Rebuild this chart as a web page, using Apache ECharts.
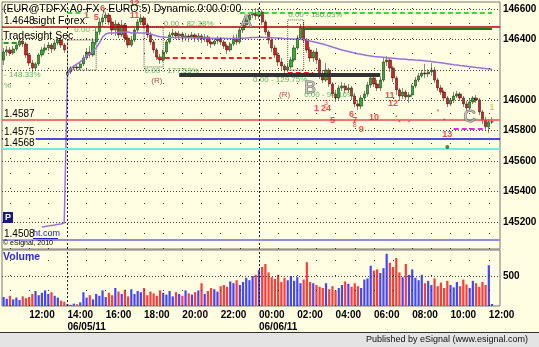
<!DOCTYPE html>
<html><head><meta charset="utf-8">
<script src="https://cdn.jsdelivr.net/npm/echarts@6/dist/echarts.min.js"></script>
<style>html,body{margin:0;padding:0;background:#fffde2;}#c{width:539px;height:347px;}</style>
</head><body><div id="c"></div><script>
// ---------- DATA (10-minute bars, prices in the chart's axis units) ----------
const openP = [146265,146317,146331,146311,146337,146363,146390,146370,146298,146245,146212,146239,146298,146331,146344,146363,146337,146377,146396,146363,
146166,146186,146212,146219,146212,146239,146278,146317,146298,146383,146449,146515,146541,146561,146515,146462,146501,146429,146495,146409,
146363,146396,146462,146515,146541,146495,146429,146383,146331,146285,146265,146317,146383,146429,146442,146423,146436,146409,146423,146416,
146429,146409,146423,146403,146416,146383,146370,146390,146403,146383,146357,146331,146370,146409,146383,146462,146495,146528,146561,146574,
146554,146580,146515,146449,146396,146344,146298,146252,146225,146199,146219,146265,146344,146409,146475,146396,146331,146278,146317,146265,
146166,146133,146199,146107,146041,146015,146081,146094,146068,146081,146028,145976,145962,146015,146041,146100,146147,146107,146081,146133,
146252,146265,146212,146147,146068,146028,146054,146022,146035,146094,146133,146160,146179,146173,146186,146199,146133,146081,146054,146015,
145976,146002,146028,146041,146015,145976,145949,145989,146015,146002,145923,145870,145825,145858];
const closeP = [146317,146331,146311,146337,146363,146390,146370,146298,146245,146212,146239,146298,146331,146344,146363,146337,146377,146396,146363,146331,
146186,146212,146219,146212,146239,146278,146317,146298,146383,146449,146515,146541,146561,146515,146462,146501,146429,146495,146409,146363,
146396,146462,146515,146541,146495,146429,146383,146331,146285,146265,146317,146383,146429,146442,146423,146436,146409,146423,146416,146429,
146409,146423,146403,146416,146383,146370,146390,146403,146383,146357,146331,146370,146409,146383,146462,146495,146528,146561,146574,146554,
146580,146515,146449,146396,146344,146298,146252,146225,146199,146219,146265,146344,146409,146475,146396,146331,146278,146317,146265,146166,
146133,146199,146107,146041,146015,146081,146094,146068,146081,146028,145976,145962,146015,146041,146100,146147,146107,146081,146133,146252,
146265,146212,146147,146068,146028,146054,146022,146035,146094,146133,146160,146179,146173,146186,146199,146133,146081,146054,146015,145976,
146002,146028,146041,146015,145976,145949,145989,146015,146002,145923,145870,145825,145858,145858];
const lowP = [146232,146291,146291,146298,146324,146350,146350,146278,146225,146186,146193,146225,146285,146311,146324,146311,146324,146363,146344,146311,
146140,146173,146199,146199,146199,146225,146265,146278,146285,146363,146429,146488,146515,146495,146429,146423,146409,146416,146383,146344,
146350,146383,146442,146495,146475,146409,146363,146311,146265,146239,146252,146304,146370,146416,146403,146396,146383,146390,146383,146396,
146383,146383,146377,146383,146357,146344,146357,146370,146363,146337,146304,146317,146357,146363,146370,146442,146475,146508,146541,146528,
146534,146495,146429,146370,146317,146278,146225,146199,146179,146186,146206,146252,146331,146396,146377,146311,146252,146252,146239,146140,
146114,146120,146087,146015,145989,146002,146061,146048,146048,146002,145955,145936,145943,145995,146022,146081,146087,146061,146061,146120,
146225,146186,146120,146035,145995,146008,146002,145982,146022,146081,146120,146147,146147,146153,146160,146114,146061,146035,145995,145955,
145962,145982,146015,145995,145955,145929,145936,145976,145982,145903,145844,145805,145785,145844];
const highP = [146344,146357,146350,146357,146377,146409,146403,146383,146311,146265,146252,146311,146350,146370,146383,146377,146396,146416,146409,146377,
146212,146225,146232,146239,146252,146298,146344,146357,146409,146475,146541,146567,146580,146574,146541,146528,146515,146528,146508,146429,
146423,146475,146534,146567,146554,146508,146449,146396,146344,146304,146331,146396,146449,146469,146455,146455,146449,146442,146436,146449,
146442,146442,146436,146436,146429,146403,146409,146423,146416,146396,146370,146383,146429,146436,146482,146521,146554,146580,146600,146607,
146607,146593,146528,146462,146416,146363,146317,146278,146239,146239,146285,146363,146429,146501,146515,146409,146350,146331,146344,146278,
146199,146245,146212,146120,146068,146100,146120,146114,146107,146094,146048,146002,146035,146061,146120,146166,146166,146133,146153,146278,
146291,146278,146225,146160,146081,146081,146068,146054,146107,146153,146179,146199,146239,146206,146245,146219,146147,146100,146068,146028,
146015,146054,146061,146054,146028,145995,146008,146028,146035,146015,145936,145890,145877,145890];
const maValues = ['-','-','-','-','-','-','-','-','-','-','-','-',
145167,145170,145174,145177,145180,145184,145187,145193,
146166,146206,146225,146239,146252,146271,146291,146304,146324,146344,146377,146416,146436,146442,
146442,146442,146449,146449,146449,146449,146442,146442,146442,146442,146442,146442,146436,146429,146423,
146418,146416,146414,146413,146412,146412,146413,146413,146412,146411,146411,146410,146410,146410,146409,146409,146408,146408,146408,146407,146407,
146406,146406,146406,146406,146407,146408,146410,146411,146412,146413,146414,146414,146413,146412,146411,146410,146409,146408,146406,146405,146403,
146402,146401,146401,146399,146396,146390,146385,146380,146375,146370,146363,146357,146350,146344,146337,146331,146326,146320,146315,146311,
146306,146302,146298,146294,146291,146288,146286,146284,146282,146280,146278,146276,146274,146272,146271,146269,146267,146266,146264,146263,
146261,146259,146257,146255,146252,146249,146246,146243,146240,146237,146234,146232,146229,146227,146224,146221,146218,146215,146213,146211,
146208,146206,146203];
const volume = [150,120,170,110,140,100,160,130,150,
200,250,180,220,260,200,230,170,
140,90,70,
30,20,40,30,60,
230,140,180,110,200,170,
260,150,220,180,300,240,200,270,160,
280,200,250,230,300,180,240,210,170,260,
220,190,250,160,230,200,170,260,210,190,
230,260,380,200,250,300,280,240,330,350,
320,410,380,430,350,400,470,430,500,520,
600,650,700,560,480,450,520,400,470,430,
500,420,480,380,440,730,400,380,350,320,
300,380,280,330,260,300,350,410,370,320,
380,330,300,440,460,670,590,610,550,630,
870,720,650,800,560,480,700,520,610,470,
430,520,380,420,350,460,330,390,300,420,
350,310,400,330,440,360,300,420,380,320,
400,350,680,33];

const tickIdx = [8,20,32,44,56,68,80,92,104,116,128,140,152];
const dateIdx = [20,80];
const dateText = ['06/05/11','06/06/11'];
const hourIdx = [2,8,14,26,32,38,44,50,56,62,68,74,86,92,98,104,110,116,122,128,134,140,146,152];

const gridLevels = [146600,146400,146200,146000,145800,145600,145400,145200];
const levelPrices = [146480,145870,145750,145680,145080];
const levelNames = ['1.4648','1.4587','1.4575','1.4568','1.4508'];
const maLast = 146203;
const lastPrice = 145858;
const volLevel = 500;
const lastVol = 33;

const segStart = [94,74,20,0,48,89,55,141];
const segEnd   = [153,153,25,5,84,97,118,151];
const segPrice = [146469,146574,146574,146377,146278,146179,146166,145811];

const boxStart = [20,44,89];
const boxEnd   = [29,50,94];
const boxTop   = [146396,146482,146528];
const boxBottom= [146199,146219,146199];

const noteText  = ['- 148.33%','%','0.00 - 5','0.00 - 82.38%','0.00 - 177.53%','0.00 - 186.63%','0.00 - 129.75%','0.00 - 94.16%',
  '(R)','(R)','A','B','C',
  '1','3','24','5','6','7','8','9','10','11','12','13','*','*','*','*','*',
  '1','5','6','12','11','1'];
const noteIdx   = [0,0,22,50,44,89,78,94, 48,88,76,96,146, 98,101,101,103,109,110,110,112,116,121,122,139,123,124,127,136,138, 26,29,31,41,41,153];
const notePrice = [146166,146094,146462,146501,146193,146561,146133,146035, 146127,146035,146515,146081,145890,
  145943,145982,145943,145864,145909,145870,145838,145805,145884,146028,145976,145778,145884,145851,145851,145923,145864,
  146554,146541,146600,146633,146554,145949];
const noteKind  = ['pct','pct','pct','pct','pct','pct','pct','pct','r','r','letter','letter','letter',
  'red','redS','red','red','red','red','redS','red','red','red','red','red','redS','redS','redS','redS','redS',
  'red','red','red','red','red','olive'];
const dotIdx = [139];
const dotPrice = [145693];

// ---------- STYLES ----------
const BG = '#fffde2';
const FONT = '"Liberation Sans", Arial, sans-serif';
const levelColors = ['#b00000','#f04848','#1010e0','#6eeee2','#8c8ce0'];
const levelWidths = [1.5,1.5,1.5,2,2];
const segStyles = [
  {color:'#1a7a1a', width:2, type:'solid'},
  {color:'#33dd33', width:2, type:[5,3]},
  {color:'#33dd33', width:2, type:[5,3]},
  {color:'#229922', width:2, type:[5,3]},
  {color:'#ee2222', width:2, type:[5,3]},
  {color:'#ee2222', width:2, type:[5,3]},
  {color:'#333333', width:4, type:'solid'},
  {color:'#ee22ee', width:2, type:[5,3]}
];
const noteStyle = {
  pct:{position:'right', distance:0, color:'#34a040', fontSize:8},
  r:{position:'inside', color:'#8b2020', fontSize:8},
  letter:{position:'inside', color:'#c8c8c8', fontSize:17, textBorderColor:'#444', textBorderWidth:1},
  red:{position:'inside', color:'#ee2020', fontSize:9, fontWeight:'bold'},
  redS:{position:'inside', color:'#ee2020', fontSize:7},
  olive:{position:'inside', color:'#c8c040', fontSize:9, fontWeight:'bold'}
};

// ---------- BUILD ----------
const pad = n => (n < 10 ? '0' : '') + n;
const cats = [];
for (let m = 0; m < 156; m++) { const t = 640 + m * 10; cats.push(pad(Math.floor(t / 60) % 24) + ':' + pad(t % 60)); }

const candles = openP.map((o, i) => [o, closeP[i], lowP[i], highP[i]]);
const volData = volume.map((v, i) => ({value: v, itemStyle: {color: closeP[i] >= openP[i] ? '#4545ff' : '#ff3b3b'}}));

const dotted = {color:'#444', width:1, type:[1,2]};
const vDotted = {color:'#333', width:1, type:[1,14]};
const dayLine = {color:'#222', width:1, type:[2,2]};
const rightLbl = {show:true, position:'end', distance:3, fontSize:10, fontWeight:'bold', color:'#000', fontFamily:FONT};

const mainGridLines = [];
gridLevels.forEach(v => mainGridLines.push({yAxis:v, lineStyle:dotted,
  label: v === 146200 ? {show:false} : Object.assign({formatter:String(v)}, rightLbl)}));
hourIdx.forEach(i => mainGridLines.push({xAxis:i, lineStyle:vDotted, label:{show:false}}));
dateIdx.forEach(i => mainGridLines.push({xAxis:i, lineStyle:dayLine, label:{show:false}}));

const levelLines = [];
segStart.forEach((s, k) => levelLines.push([
  {coord:[s, segPrice[k]], lineStyle:segStyles[k], label:{show:false}},
  {coord:[segEnd[k], segPrice[k]]}
]));
levelPrices.forEach((v, k) => levelLines.push({yAxis:v, lineStyle:{color:levelColors[k], width:levelWidths[k], type:'solid'},
  label:{show:true, position:'insideStartTop', distance:[1,1], formatter:levelNames[k], color:'#000', fontSize:10,
    fontFamily:FONT, backgroundColor:BG, padding:[2,1,0,1]}}));
levelLines.push({yAxis:maLast, lineStyle:{opacity:0}, label:{show:true, position:'end', distance:0, formatter:String(maLast),
  backgroundColor:'#9a70dd', color:'#fff', fontWeight:'bold', fontSize:10, padding:[2,2,2,3], offset:[0,-7], fontFamily:FONT}});
levelLines.push({yAxis:lastPrice, lineStyle:{opacity:0}, label:{show:true, position:'end', distance:0, formatter:String(lastPrice),
  backgroundColor:'#16cc16', color:'#fff', fontWeight:'bold', fontSize:10, padding:[2,2,2,3], fontFamily:FONT}});

const volLines = [{yAxis:volLevel, lineStyle:dotted, label:Object.assign({formatter:String(volLevel)}, rightLbl)}];
hourIdx.forEach(i => volLines.push({xAxis:i, lineStyle:vDotted, label:{show:false}}));
dateIdx.forEach(i => volLines.push({xAxis:i, lineStyle:dayLine, label:{show:false}}));
volLines.push({yAxis:lastVol, lineStyle:{opacity:0}, label:{show:true, position:'end', distance:0, formatter:String(lastVol),
  backgroundColor:'#1c1ce6', color:'#fff', fontSize:10, padding:[1,3,1,3], offset:[0,-5], fontFamily:FONT}});

const boxes = boxStart.map((s, k) => [{coord:[s, boxTop[k]]}, {coord:[boxEnd[k], boxBottom[k]]}]);

const notes = noteText.map((t, k) => ({value:[noteIdx[k], notePrice[k]],
  label:Object.assign({show:true, formatter:t, fontFamily:FONT}, noteStyle[noteKind[k]])}));

const chart = echarts.init(document.getElementById('c'));
chart.setOption({
  backgroundColor: BG,
  animation: false,
  textStyle: {fontFamily: FONT},
  grid: [
    {left:2, right:39, top:2, height:247, show:true, borderColor:'#777', borderWidth:1, backgroundColor:'transparent'},
    {left:2, right:39, top:250, height:56, show:true, borderColor:'#777', borderWidth:1, backgroundColor:'transparent'}
  ],
  xAxis: [
    {type:'category', data:cats, gridIndex:0, show:false},
    {type:'category', data:cats, gridIndex:1, axisLine:{show:false}, axisTick:{show:false}, splitLine:{show:false},
      axisLabel:{interval:(i) => tickIdx.indexOf(i) >= 0,
        formatter:(v, i) => { const d = dateIdx.indexOf(i); return d >= 0 ? v + '\n' + dateText[d] : v; },
        align:'left', fontSize:10, fontWeight:'bold', color:'#000', margin:3, lineHeight:12, fontFamily:FONT}}
  ],
  yAxis: [
    {type:'value', gridIndex:0, min:145022, max:146646, show:false},
    {type:'value', gridIndex:1, min:0, max:933, show:false}
  ],
  series: [
    {type:'line', name:'grid', data:[], silent:true,
      markLine:{symbol:['none','none'], silent:true, animation:false, data:mainGridLines}},
    {type:'candlestick', name:'EUR A0-FX', data:candles, barWidth:2.8, z:3,
      itemStyle:{color:'#22b822', color0:'#e81818', borderColor:'#111', borderColor0:'#111', borderWidth:0.5},
      markArea:{silent:true, itemStyle:{color:'rgba(0,0,0,0)', borderColor:'#555', borderWidth:1, borderType:'dotted'}, data:boxes}},
    {type:'line', name:'MA', data:maValues, symbol:'none', z:4, lineStyle:{color:'#9b6fe0', width:1.5}},
    {type:'line', name:'levels', data:[], silent:true, z:5,
      markLine:{symbol:['none','none'], silent:true, animation:false, data:levelLines}},
    {type:'scatter', name:'notes', data:notes, symbolSize:1, z:6, silent:true, itemStyle:{color:'rgba(0,0,0,0)'}},
    {type:'scatter', name:'dot', data:dotIdx.map((x, k) => [x, dotPrice[k]]), symbolSize:4, z:6, itemStyle:{color:'#107010'}},
    {type:'bar', name:'Volume', xAxisIndex:1, yAxisIndex:1, data:volData, barWidth:2.2},
    {type:'line', name:'volgrid', xAxisIndex:1, yAxisIndex:1, data:[], silent:true,
      markLine:{symbol:['none','none'], silent:true, animation:false, data:volLines}}
  ],
  graphic: [
    {type:'rect', left:0, top:333, shape:{width:539, height:14}, style:{fill:'#e4e4e4'}, z:1},
    {type:'line', shape:{x1:0, y1:332.5, x2:539, y2:332.5}, style:{stroke:'#333', lineWidth:1}, z:1},
    {type:'text', right:11, top:335, style:{text:'Published by eSignal (www.esignal.com)', font:'9px ' + FONT, fill:'#111'}, z:10},
    {type:'text', left:3, top:4, style:{text:'(EUR@TDFX A0-FX , EURO:5) Dynamic.0:00.0:00', font:'10.5px ' + FONT, fill:'#000'}, z:10},
    {type:'text', left:33, top:16, style:{text:'sight Forex', font:'10.5px ' + FONT, fill:'#000'}, z:10},
    {type:'text', left:3, top:31, style:{text:'Tradesight Sec', font:'10.5px ' + FONT, fill:'#000'}, z:10},
    {type:'rect', left:3, top:212, shape:{width:10, height:11}, style:{fill:'#1a1a7a'}, z:10},
    {type:'text', left:5, top:213, style:{text:'P', font:'bold 9px ' + FONT, fill:'#fff'}, z:11},
    {type:'text', left:33, top:229, style:{text:'ht.com', font:'9px ' + FONT, fill:'#2222cc'}, z:10},
    {type:'line', shape:{x1:33, y1:238.5, x2:58, y2:238.5}, style:{stroke:'#2222cc', lineWidth:1}, z:10},
    {type:'text', left:3, top:240, style:{text:'\u00a9 eSignal, 2010', font:'7px ' + FONT, fill:'#000'}, z:10},
    {type:'text', left:3, top:252, style:{text:'Volume', font:'bold 10.5px ' + FONT, fill:'#2b2bd8'}, z:10}
  ]
});
</script></body></html>
